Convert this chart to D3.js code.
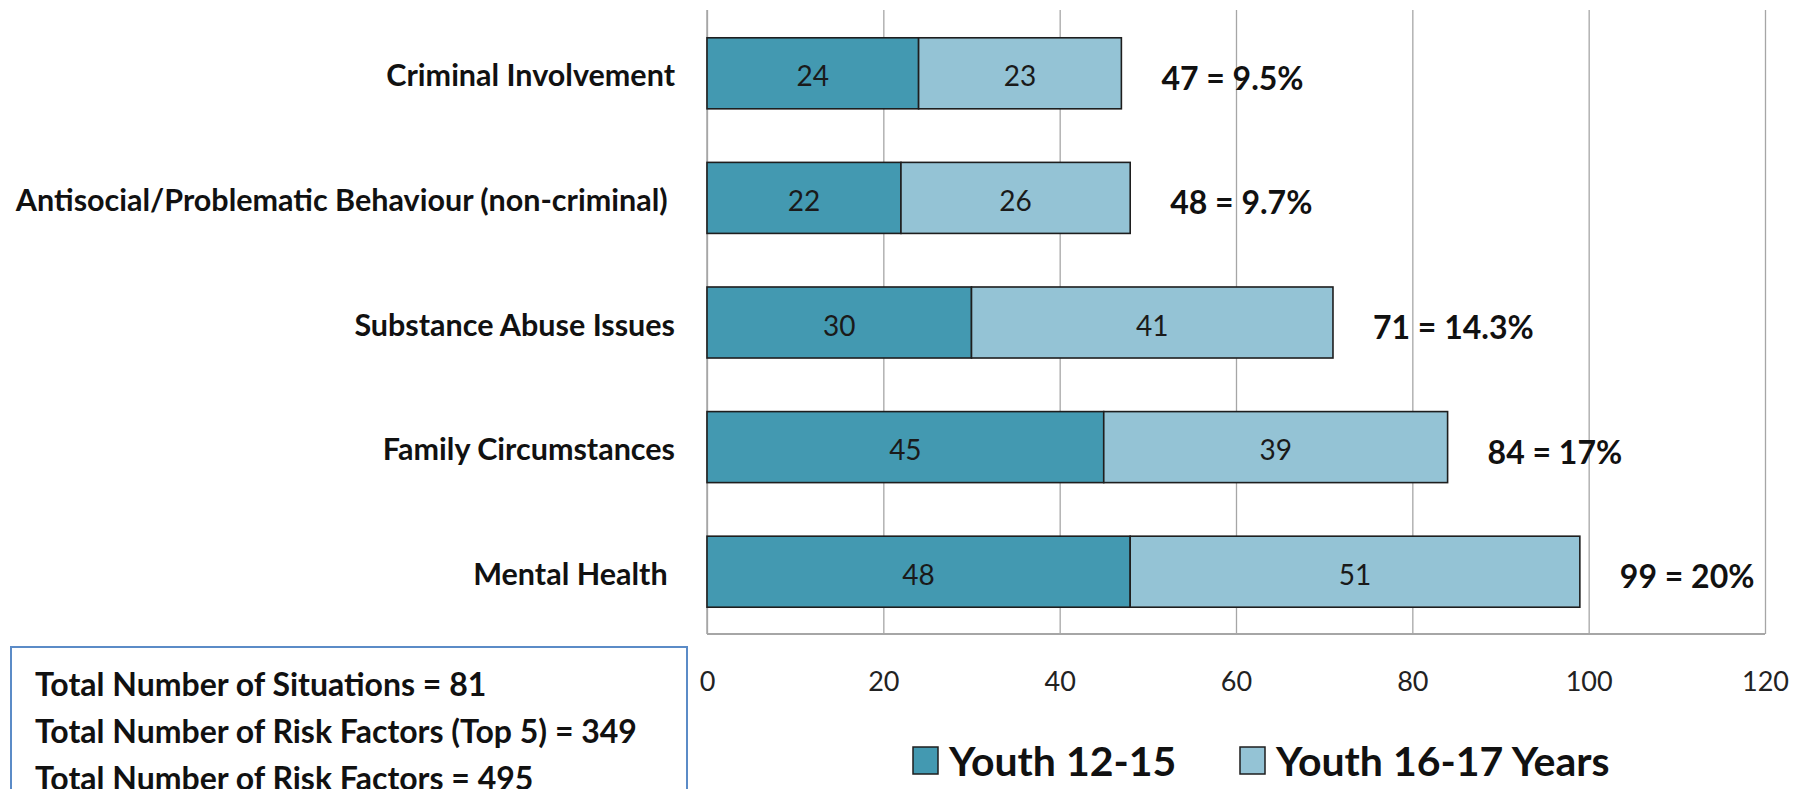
<!DOCTYPE html>
<html>
<head>
<meta charset="utf-8">
<script src="https://cdn.jsdelivr.net/npm/d3@7"></script>
<style>
  body { margin: 0; background: #fff; }
  svg text { font-family: Lato, "Open Sans", sans-serif; white-space: pre; }
</style>
</head>
<body>
<svg id="chart"></svg>
<script>

var categories = [
    "Criminal Involvement",
    "Antisocial/Problematic Behaviour (non-criminal) ",
    "Substance Abuse Issues",
    "Family Circumstances",
    "Mental Health "
];

var youth1215 = [24, 22, 30, 45, 48];
var youth1617 = [23, 26, 41, 39, 51];
var totalLabels = ["47 = 9.5%", "48 = 9.7%", "71 = 14.3%", "84 = 17%", "99 = 20%"];
var seriesNames = ["Youth 12-15", "Youth 16-17 Years"];
var xTicks = [0, 20, 40, 60, 80, 100, 120];
var boxLines = [
    "Total Number of Situations = 81",
    "Total Number of Risk Factors (Top 5) = 349",
    "Total Number of Risk Factors = 495"
];

var dimensions = {
    width: 1810,
    height: 789,
    plotLeft: 707,
    plotRight: 1765,
    plotTop: 10,
    plotBottom: 634
};

var colors = ["#4399b1", "#94c3d5"];

var svg = d3.select("#chart")
            .attr("width", dimensions.width)
            .attr("height", dimensions.height)

var xScale = d3.scaleLinear()
                .domain([0, 120])
                .range([dimensions.plotLeft, dimensions.plotRight])

var yScale = d3.scaleBand()
                .domain(categories)
                .range([11, dimensions.plotBottom])
                .paddingInner(0.43)
                .paddingOuter(0.215)

// gridlines
var grid = svg.append("g")
    .attr("transform", `translate(0,${dimensions.plotBottom})`)
    .call(d3.axisBottom(xScale).tickValues(xTicks)
        .tickSize(-(dimensions.plotBottom - dimensions.plotTop))
        .tickFormat(""))
grid.select(".domain").remove()
grid.selectAll("line").attr("stroke", "#a6a6a6").attr("stroke-width", 1.3)

// left and bottom axis lines
svg.append("line")
    .attr("x1", xScale(0)).attr("x2", xScale(0))
    .attr("y1", dimensions.plotTop).attr("y2", dimensions.plotBottom)
    .attr("stroke", "#a6a6a6").attr("stroke-width", 1.5)
svg.append("line")
    .attr("x1", xScale(0)).attr("x2", xScale(120))
    .attr("y1", dimensions.plotBottom).attr("y2", dimensions.plotBottom)
    .attr("stroke", "#a6a6a6").attr("stroke-width", 2)

// tick labels
var xAxis = svg.append("g")
    .attr("transform", `translate(0,${dimensions.plotBottom})`)
    .call(d3.axisBottom(xScale).tickValues(xTicks).tickSize(0).tickPadding(38))
xAxis.select(".domain").remove()
xAxis.selectAll("text")
    .style("font-family", "Lato, sans-serif")
    .style("font-size", "27px")
    .attr("fill", "#222")

// category labels
svg.append("g")
    .selectAll("text")
    .data(categories)
    .enter()
    .append("text")
    .attr("x", 675)
    .attr("y", function(d) { return yScale(d) + yScale.bandwidth() / 2 + 1 })
    .attr("text-anchor", "end")
    .attr("dominant-baseline", "central")
    .style("font-size", "30.5px")
    .style("font-weight", "bold")
    .attr("fill", "#111")
    .text(function(d) { return d })

// stacked bars
for (var i = 0; i < categories.length; i++) {
    var cat = categories[i];
    var parts = [youth1215[i], youth1617[i]];
    var start = 0;
    for (var j = 0; j < parts.length; j++) {
        svg.append("rect")
            .attr("x", xScale(start))
            .attr("y", yScale(cat))
            .attr("width", xScale(start + parts[j]) - xScale(start))
            .attr("height", yScale.bandwidth())
            .attr("fill", colors[j])
            .attr("stroke", "#1e1e1e")
            .attr("stroke-width", 1.6)

        svg.append("text")
            .attr("x", xScale(start + parts[j] / 2))
            .attr("y", yScale(cat) + yScale.bandwidth() / 2 + 2)
            .attr("text-anchor", "middle")
            .attr("dominant-baseline", "central")
            .style("font-size", "28px")
            .attr("fill", "#1a1a1a")
            .text(parts[j])

        start += parts[j];
    }

    // total label, sits ~40px right of the bar end
    svg.append("text")
        .attr("x", xScale(start) + 40)
        .attr("y", yScale(cat) + yScale.bandwidth() / 2 + 4)
        .attr("dominant-baseline", "central")
        .style("font-size", "32px")
        .style("font-weight", "bold")
        .attr("fill", "#111")
        .text(totalLabels[i])
}

// legend
var legendX = [913, 1240];
seriesNames.forEach(function(name, k) {
    svg.append("rect")
        .attr("x", legendX[k])
        .attr("y", 747)
        .attr("width", 25)
        .attr("height", 27)
        .attr("fill", colors[k])
        .attr("stroke", "#1e1e1e")
        .attr("stroke-width", 1.5)
    svg.append("text")
        .attr("x", legendX[k] + 36)
        .attr("y", 776)
        .style("font-size", "41px")
        .style("font-weight", "bold")
        .attr("fill", "#111")
        .text(name)
})

// info box
svg.append("rect")
    .attr("x", 11)
    .attr("y", 647)
    .attr("width", 676)
    .attr("height", 170)
    .attr("fill", "none")
    .attr("stroke", "#5b8bc7")
    .attr("stroke-width", 2)

svg.append("g")
    .selectAll("text")
    .data(boxLines)
    .enter()
    .append("text")
    .attr("x", 35)
    .attr("y", function(d, i) { return 696 + i * 47 })
    .style("font-size", "32px")
    .style("font-weight", "bold")
    .attr("fill", "#111")
    .text(function(d) { return d })

</script>
</body>
</html>
